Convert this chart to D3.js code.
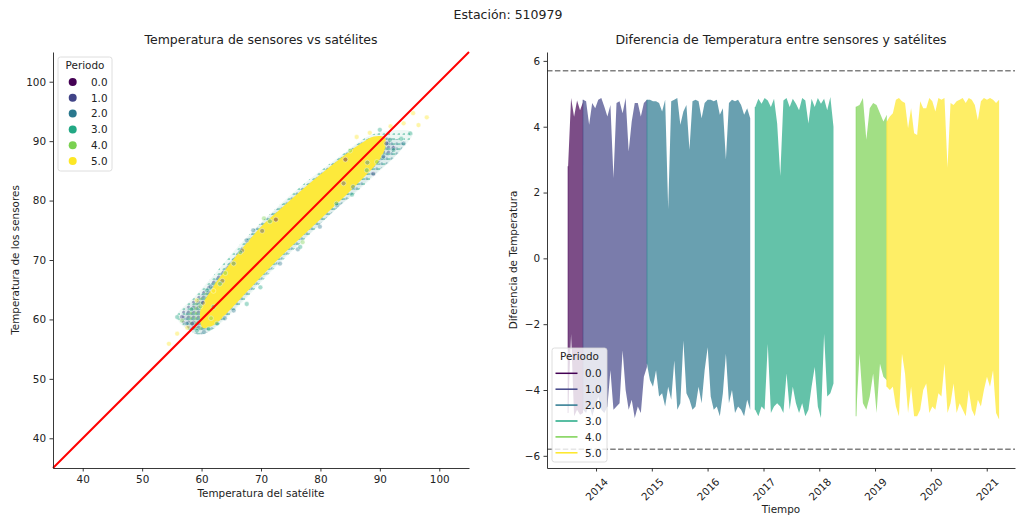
<!DOCTYPE html>
<html>
<head>
<meta charset="utf-8">
<script src="https://cdn.jsdelivr.net/npm/d3@7"></script>
<style>
	body { margin: 0; background: #fff; }
	svg text { font-family: "DejaVu Sans", sans-serif; fill: #222; }
</style>
</head>
<body>
<svg id="chart" width="1016" height="520"></svg>
<script>
// ---- datos ----
const periodos = [ 0, 1, 2, 3, 4, 5 ];
const etiquetasPeriodo = [ "0.0", "1.0", "2.0", "3.0", "4.0", "5.0" ];
const ticksTemp = [ 40, 50, 60, 70, 80, 90, 100 ];
const ticksDif = [ -6, -4, -2, 0, 2, 4, 6 ];
const limites = [ 5.7, -5.8 ];

// nube de puntos (temp. satélite, temp. sensores): contorno de la zona densa de cada periodo
const nubeP0 = [ [66,69.5],[70,74],[75,79],[80,83.5],[85,87.5],[87.5,88.5],[88,86.5],[84,82.6],[79,78],[74,73],[69,68.5],[66.5,67.5] ];
const nubeP1 = [ [57,59],[56.5,60.8],[60,64.5],[64,68.8],[68,73],[72,77],[76,80.5],[80,84],[84,87.5],[88,90],[91,90.5],[92.5,88.8],[90,86.5],[86.5,83.5],[83,80.2],[79,76.6],[75,72.8],[71,68.8],[67,64.6],[63,60.6],[60,58.2] ];
const nubeP2 = [ [58.5,57.8],[57.2,60.5],[59.5,63.6],[62.5,67],[65.5,70.6],[68.5,74.6],[72,78],[76,81.4],[80,84.6],[84,87.8],[88,90.4],[91.5,90.6],[94,89.6],[92.5,87.4],[89.5,84.8],[86,81.6],[82,78],[78,74.3],[74,70.6],[70,66.6],[66.5,62.8],[63,59.4],[60.5,57.6] ];
const nubeP3 = [ [59,57.6],[55.8,60.4],[58.8,63.8],[62,67.4],[65.2,71.2],[68.5,74.8],[72,78.2],[76,81.8],[80,85],[84,88],[88,90.8],[92,91.8],[95.5,91.4],[93.5,88.4],[90,85],[86.5,81.8],[82.5,78.4],[78.5,74.6],[74.5,70.8],[70.5,66.8],[67,63],[63.5,59.6],[61,57.8] ];
const nubeP4 = [ [59.5,58.2],[57.5,60.5],[61,64.8],[64.5,68.8],[68.5,73.2],[72.5,77.4],[76.5,81],[80.5,84.6],[84.5,88],[88.5,90],[91,89.5],[90,86.8],[86.5,83.5],[82.5,79.8],[78.5,76],[74.5,72.2],[70.5,68.2],[66.5,64.2],[62.5,60] ];
const nubeP5 = [ [60.2,58.6],[59.8,61.5],[61.5,64.8],[64.2,68.6],[67.2,72.4],[70.2,75.8],[73.5,78.8],[77,81.9],[80.5,84.8],[84,87.6],[86.8,89.6],[89,90.8],[90.8,90.6],[90.8,88.6],[89.6,86.4],[87.6,84.2],[84.6,81.2],[81.2,78],[77.8,74.8],[74.4,71.6],[71,68.2],[67.6,64.6],[64.4,61.2],[62,59] ];

// puntos sueltos en el borde de la nube
const puntosP0 = [ [72.5,76.8],[84.2,86.9] ];
const puntosP1 = [ [56.7,60.4],[58.4,59.3],[63.5,66.5],[66.8,71.6],[70.2,74.9],[83.9,82.9],[88.9,84.5],[91.1,89.6],[92.3,88.8],[60.2,62.8] ];
const puntosP2 = [ [57.5,59.3],[60.4,57.9],[62,62.1],[65.4,69.4],[67.6,73.3],[65.4,61.5],[73.2,69.4],[79.9,75.6],[85.5,82.3],[90.6,87.4],[94,89.6],[68.7,75],[61.5,65.5],[76.2,71.8],[82.8,79.2],[87.9,86.4],[63.9,60.2] ];
const puntosP3 = [ [55.9,60.4],[59.2,58.1],[61.2,58.4],[62.6,59.3],[60.9,64.9],[63.1,66],[66.5,71.3],[67.6,62.6],[69.9,65.4],[76.6,72.2],[82.7,79.5],[87.8,85.1],[92.3,88.5],[95.1,91.3],[90,91.9],[91.7,90.2],[58.3,61.7],[71.5,76.5],[85.3,81],[93.6,90.4] ];
const puntosP4 = [ [56.7,59.8],[61.6,60.2],[64,67.8],[70.5,77],[77,73],[85,88.4],[89.5,86.5],[59.8,62.2] ];
const puntosP5 = [ [54.5,55.9],[55.9,57.6],[95.6,94.7],[97.9,94],[96.5,92.7],[86.1,90.7],[94,93],[59.2,63.2],[57.6,58.6],[91.8,92.5],[88.3,91.4],[62,64.8] ];

// diferencia sensores - satélite: fechas de cada periodo y envolventes (máx / mín)
const inicioPeriodo = [ "2013-07-02", "2013-10-08", "2014-11-30", "2016-11-08", "2018-08-30", "2019-03-19" ];
const finPeriodo = [ "2013-10-08", "2014-11-30", "2016-10-06", "2018-04-04", "2019-03-19", "2021-03-23" ];

const difMaxP0 = [ 2.8, 4.87, 4.3, 4.8, 4.5, 4.75 ];
const difMinP0 = [ -4.7, -2.3, -4.8, -4.6, -4.75, -4.7 ];
const difMaxP1 = [ 4.82, 4.77, 4.06, 4.72, 4.56, 4.82, 4.87, 4.61, 4.31, 4.66, 2.44, 4.72, 4.77, 4.41, 4.87, 3.25, 4.16, 4.72, 4.72, 4.31, 4.72, 4.82 ];
const difMinP1 = [ -4.6, -4.7, -4.4, -4.8, -4.5, -4.2, -4.6, -4.7, -4.5, -3.4, -4.6, -4.5, -4.4, -2.8, -4.0, -4.6, -4.3, -4.85, -4.5, -4.7, -3.6, -3.3 ];
const difMaxP2 = [ 4.82, 4.82, 4.77, 4.77, 4.72, 4.46, 4.82, 1.5, 4.77, 4.82, 4.87, 4.06, 4.46, 4.66, 3.3, 4.77, 4.82, 4.77, 4.26, 4.72, 4.82, 4.82, 4.77, 4.82, 4.36, 4.56, 3.0, 4.72, 4.82, 4.77, 4.82, 4.66, 4.36, 4.56, 4.26 ];
const difMinP2 = [ -3.2, -3.7, -3.9, -3.4, -4.2, -4.1, -4.5, -3.9, -4.3, -3.1, -4.6, -4.4, -2.5, -4.1, -4.3, -4.6, -4.5, -3.9, -4.4, -3.4, -2.7, -4.2, -4.6, -4.5, -4.8, -4.1, -2.9, -4.4, -4.0, -4.7, -4.5, -4.6, -4.8, -4.3, -4.6 ];
const difMaxP3 = [ 4.6, 4.85, 4.7, 4.87, 4.8, 4.6, 4.85, 4.1, 2.5, 4.8, 4.87, 4.6, 4.85, 4.7, 4.5, 4.87, 4.8, 4.1, 4.85, 4.6, 4.87, 4.7, 4.85, 4.5, 4.9, 4.0 ];
const difMinP3 = [ -4.6, -4.8, -4.5, -4.6, -2.6, -4.7, -4.5, -4.4, -4.5, -4.7, -3.5, -4.6, -3.9, -4.4, -4.7, -4.4, -4.8, -4.6, -3.9, -3.3, -4.5, -4.85, -2.3, -4.2, -4.1, -3.8 ];
const difMaxP4 = [ 4.61, 4.66, 4.87, 3.6, 4.56, 4.72, 4.66, 4.41, 4.16, 4.36 ];
const difMinP4 = [ -4.8, -2.9, -4.4, -4.6, -4.2, -3.5, -4.7, -3.2, -3.6, -3.7 ];
const difMaxP5 = [ 4.16, 4.31, 4.41, 4.82, 4.87, 4.77, 4.72, 3.95, 4.56, 3.8, 3.75, 4.77, 4.56, 4.56, 4.87, 4.77, 4.46, 4.87, 4.82, 4.87, 2.75, 4.72, 4.66, 4.77, 4.82, 4.87, 4.72, 4.87, 4.82, 4.66, 4.2, 4.77, 4.87, 4.82, 4.87, 4.82, 4.72, 4.82 ];
const difMinP5 = [ -3.9, -4.0, -3.9, -4.5, -4.8, -2.9, -3.5, -4.7, -3.9, -4.8, -4.8, -4.6, -4.0, -3.8, -4.7, -4.5, -4.6, -4.1, -4.2, -3.2, -4.7, -4.4, -3.8, -4.7, -4.4, -4.6, -4.8, -4.0, -4.6, -4.8, -4.3, -4.5, -4.0, -3.6, -3.9, -3.4, -4.7, -4.9 ];

const nubes = [ nubeP0, nubeP1, nubeP2, nubeP3, nubeP4, nubeP5 ];
const puntos = [ puntosP0, puntosP1, puntosP2, puntosP3, puntosP4, puntosP5 ];
const difMax = [ difMaxP0, difMaxP1, difMaxP2, difMaxP3, difMaxP4, difMaxP5 ];
const difMin = [ difMinP0, difMinP1, difMinP2, difMinP3, difMinP4, difMinP5 ];

// ---- dibujo ----
const color = d3.scaleSequential( d3.interpolateViridis ).domain( [ 0, 5 ] );
const svg = d3.select( "#chart" );
const parse = d3.timeParse( "%Y-%m-%d" );

svg.append( "text" )
	.attr( "x", 508 ).attr( "y", 19 )
	.attr( "text-anchor", "middle" )
	.style( "font-size", "12.5px" )
	.text( "Estación: 510979" );

function estiloEje( g ) {
	g.select( ".domain" ).attr( "stroke", "#222" ).attr( "stroke-width", 0.9 );
	g.selectAll( ".tick line" ).attr( "stroke", "#222" ).attr( "stroke-width", 0.9 );
	g.selectAll( "text" ).attr( "font-family", null ).attr( "fill", "#222" ).style( "font-size", "10.4px" );
}

function leyenda( x, y, w, h, titulo ) {
	const g = svg.append( "g" );
	g.append( "rect" )
		.attr( "x", x ).attr( "y", y ).attr( "width", w ).attr( "height", h )
		.attr( "rx", 2.5 )
		.attr( "fill", "#fff" ).attr( "fill-opacity", 0.8 )
		.attr( "stroke", "#d6d6d6" ).attr( "stroke-width", 0.8 );
	g.append( "text" )
		.attr( "x", x + w / 2 ).attr( "y", y + 12 )
		.attr( "text-anchor", "middle" )
		.style( "font-size", "10.4px" )
		.text( titulo );
	return g;
}

// textura de puntos para las zonas densas de la nube
const desfases = [ [ 1, 1 ], [ 3.5, 2 ], [ 1.8, 3.8 ], [ 4, 4.4 ], [ 0.6, 2.9 ], [ 2.6, 0.4 ] ];
const defs = svg.append( "defs" );
periodos.forEach( ( p, i ) => {
	const pat = defs.append( "pattern" )
		.attr( "id", "puntos" + i )
		.attr( "patternUnits", "userSpaceOnUse" )
		.attr( "width", 5 ).attr( "height", 5 );
	pat.append( "circle" )
		.attr( "cx", desfases[i][0] ).attr( "cy", desfases[i][1] )
		.attr( "r", 1.5 )
		.attr( "fill", color( p ) ).attr( "fill-opacity", 0.45 );
} );

// --- panel izquierdo: dispersión ---
const xTemp = d3.scaleLinear().domain( [ 35, 105 ] ).range( [ 53, 469 ] );
const yTemp = d3.scaleLinear().domain( [ 35, 105 ] ).range( [ 468, 52 ] );

svg.append( "text" )
	.attr( "x", 261 ).attr( "y", 44 )
	.attr( "text-anchor", "middle" )
	.style( "font-size", "12.5px" )
	.text( "Temperatura de sensores vs satélites" );

const contorno = d3.line()
	.x( d => xTemp( d[0] ) )
	.y( d => yTemp( d[1] ) )
	.curve( d3.curveCatmullRomClosed );

const nube = svg.append( "g" );
nubes.forEach( ( poly, i ) => {
	if ( i === 5 ) {
		nube.append( "path" )
			.datum( poly )
			.attr( "d", contorno )
			.attr( "fill", d3.interpolateRgb( color( 5 ), "#fff" )( 0.1 ) );
	} else {
		nube.append( "path" )
			.datum( poly )
			.attr( "d", contorno )
			.attr( "fill", color( periodos[i] ) )
			.attr( "fill-opacity", 0.08 );
		nube.append( "path" )
			.datum( poly )
			.attr( "d", contorno )
			.attr( "fill", "url(#puntos" + i + ")" );
	}
} );
puntos.forEach( ( pts, i ) => {
	nube.selectAll( null )
		.data( pts )
		.enter()
		.append( "circle" )
		.attr( "cx", d => xTemp( d[0] ) )
		.attr( "cy", d => yTemp( d[1] ) )
		.attr( "r", 2.4 )
		.attr( "fill", color( periodos[i] ) )
		.attr( "fill-opacity", 0.4 )
		.attr( "stroke", "#fff" )
		.attr( "stroke-width", 0.4 );
} );

svg.append( "line" )
	.attr( "x1", xTemp( 35 ) ).attr( "y1", yTemp( 35 ) )
	.attr( "x2", xTemp( 105 ) ).attr( "y2", yTemp( 105 ) )
	.attr( "stroke", "red" ).attr( "stroke-width", 2 );

svg.append( "g" )
	.attr( "transform", "translate(0,468)" )
	.call( d3.axisBottom( xTemp ).tickValues( ticksTemp ).tickSize( 3.5 ).tickPadding( 4 ).tickSizeOuter( 0 ) )
	.call( estiloEje );
svg.append( "g" )
	.attr( "transform", "translate(53,0)" )
	.call( d3.axisLeft( yTemp ).tickValues( ticksTemp ).tickSize( 3.5 ).tickPadding( 3.5 ).tickSizeOuter( 0 ) )
	.call( estiloEje );

svg.append( "text" )
	.attr( "x", 261 ).attr( "y", 497 )
	.attr( "text-anchor", "middle" )
	.style( "font-size", "10.4px" )
	.text( "Temperatura del satélite" );
svg.append( "text" )
	.attr( "transform", "translate(19,260) rotate(-90)" )
	.attr( "text-anchor", "middle" )
	.style( "font-size", "10.4px" )
	.text( "Temperatura de los sensores" );

const leyIzq = leyenda( 58, 57, 54, 114, "Periodo" );
periodos.forEach( ( p, i ) => {
	leyIzq.append( "circle" )
		.attr( "cx", 72.7 ).attr( "cy", 82 + i * 15.8 )
		.attr( "r", 4 )
		.attr( "fill", color( p ) );
	leyIzq.append( "text" )
		.attr( "x", 107.5 ).attr( "y", 82 + i * 15.8 + 3.8 )
		.attr( "text-anchor", "end" )
		.style( "font-size", "10.4px" )
		.text( etiquetasPeriodo[i] );
} );

// --- panel derecho: serie temporal de la diferencia ---
const xTiempo = d3.scaleTime()
	.domain( [ parse( "2013-02-14" ), parse( "2021-07-05" ) ] )
	.range( [ 547, 1015 ] );
const yDif = d3.scaleLinear().domain( [ -6.37, 6.27 ] ).range( [ 468, 52 ] );

svg.append( "text" )
	.attr( "x", 781 ).attr( "y", 44 )
	.attr( "text-anchor", "middle" )
	.style( "font-size", "12.5px" )
	.text( "Diferencia de Temperatura entre sensores y satélites" );

const area = d3.area()
	.x( d => xTiempo( d.t ) )
	.y0( d => yDif( d.lo ) )
	.y1( d => yDif( d.hi ) );

periodos.forEach( ( p, i ) => {
	const t0 = parse( inicioPeriodo[i] ).getTime();
	const t1 = parse( finPeriodo[i] ).getTime();
	const n = difMax[i].length;
	const serie = difMax[i].map( ( h, j ) => ( {
		t: new Date( t0 + j * ( t1 - t0 ) / ( n - 1 ) ),
		hi: h,
		lo: difMin[i][j]
	} ) );
	svg.append( "path" )
		.datum( serie )
		.attr( "d", area )
		.attr( "fill", color( p ) )
		.attr( "fill-opacity", 0.7 );
	// trazo vertical al inicio del periodo (solape de líneas)
	svg.append( "line" )
		.attr( "x1", xTiempo( serie[0].t ) ).attr( "x2", xTiempo( serie[0].t ) )
		.attr( "y1", yDif( serie[0].lo ) ).attr( "y2", yDif( serie[0].hi ) )
		.attr( "stroke", color( p ) ).attr( "stroke-opacity", 0.5 ).attr( "stroke-width", 1.2 );
} );

limites.forEach( v => {
	svg.append( "line" )
		.attr( "x1", 547 ).attr( "x2", 1015 )
		.attr( "y1", yDif( v ) ).attr( "y2", yDif( v ) )
		.attr( "stroke", "#808080" )
		.attr( "stroke-width", 1.5 )
		.attr( "stroke-dasharray", "5.5,2.4" );
} );

svg.append( "g" )
	.attr( "transform", "translate(0,468)" )
	.call( d3.axisBottom( xTiempo ).ticks( d3.timeYear.every( 1 ) ).tickFormat( d3.timeFormat( "%Y" ) ).tickSize( 3.5 ).tickSizeOuter( 0 ) )
	.call( estiloEje )
	.selectAll( "text" )
	.attr( "y", 0 )
	.attr( "dy", null )
	.attr( "text-anchor", "middle" )
	.attr( "dominant-baseline", "central" )
	.attr( "transform", "translate(0,21) rotate(-45)" );
svg.append( "g" )
	.attr( "transform", "translate(547,0)" )
	.call( d3.axisLeft( yDif ).tickValues( ticksDif ).tickFormat( d3.format( "d" ) ).tickSize( 3.5 ).tickPadding( 3.5 ).tickSizeOuter( 0 ) )
	.call( estiloEje );

svg.append( "text" )
	.attr( "x", 781 ).attr( "y", 513 )
	.attr( "text-anchor", "middle" )
	.style( "font-size", "10.4px" )
	.text( "Tiempo" );
svg.append( "text" )
	.attr( "transform", "translate(517,260) rotate(-90)" )
	.attr( "text-anchor", "middle" )
	.style( "font-size", "10.4px" )
	.text( "Diferencia de Temperatura" );

const leyDer = leyenda( 552, 348, 55, 114, "Periodo" );
periodos.forEach( ( p, i ) => {
	leyDer.append( "line" )
		.attr( "x1", 555.5 ).attr( "x2", 577.5 )
		.attr( "y1", 373.3 + i * 15.9 ).attr( "y2", 373.3 + i * 15.9 )
		.attr( "stroke", color( p ) ).attr( "stroke-width", 1.5 );
	leyDer.append( "text" )
		.attr( "x", 601.5 ).attr( "y", 373.3 + i * 15.9 + 3.8 )
		.attr( "text-anchor", "end" )
		.style( "font-size", "10.4px" )
		.text( etiquetasPeriodo[i] );
} );
</script>
</body>
</html>
